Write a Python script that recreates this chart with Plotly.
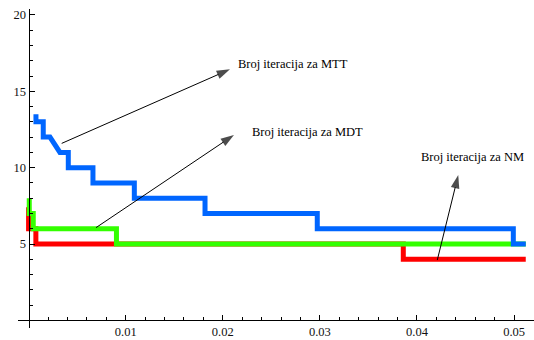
import plotly.graph_objects as go

# ---- data ----
mtt_x = [0.00076, 0.00076, 0.00151, 0.00151, 0.00220, 0.00323, 0.00409, 0.00409,
         0.00663, 0.00663, 0.01089, 0.01089, 0.01817, 0.01817, 0.02973, 0.02973,
         0.04992, 0.04992, 0.05120]
mtt_y = [13.5, 13, 13, 12, 12, 11, 11, 10, 10, 9, 9, 8, 8, 7, 7, 6, 6, 5, 5]

mdt_x = [0.00007, 0.00007, 0.00048, 0.00048, 0.00905, 0.00905, 0.05120]
mdt_y = [8, 7, 7, 6, 6, 5, 5]

nm_x = [0.00000, 0.00000, 0.00075, 0.00075, 0.03859, 0.03859, 0.05120]
nm_y = [7.4, 6, 6, 5, 5, 4, 4]

x_ticks = [0.01, 0.02, 0.03, 0.04, 0.05]
x_tick_labels = ["0.01", "0.02", "0.03", "0.04", "0.05"]
x_minor = [0.002, 0.004, 0.006, 0.008, 0.012, 0.014, 0.016, 0.018, 0.022, 0.024,
           0.026, 0.028, 0.032, 0.034, 0.036, 0.038, 0.042, 0.044, 0.046, 0.048]
y_ticks = [5, 10, 15, 20]
y_tick_labels = ["5", "10", "15", "20"]
y_minor = [1, 2, 3, 4, 6, 7, 8, 9, 11, 12, 13, 14, 16, 17, 18, 19]

labels = ["Broj iteracija za MTT", "Broj iteracija za MDT", "Broj iteracija za NM"]
# arrow tail (x, y), head (x, y), label anchor (x, y) in data units
arrow_tail = [(0.00341, 11.59), (0.00694, 6.07), (0.04209, 3.95)]
arrow_head = [(0.02074, 16.44), (0.02115, 12.14), (0.04425, 9.52)]
label_pos = [(0.02136, 16.79), (0.02280, 12.33), (0.04024, 10.72)]

X_RANGE = [-0.00109, 0.05205]
Y_RANGE = [-0.50, 20.39]

font_family = "Liberation Serif"

fig = go.Figure()
fig.add_trace(go.Scatter(x=nm_x, y=nm_y, mode="lines",
                         line=dict(color="#ff0000", width=5)))
fig.add_trace(go.Scatter(x=mdt_x, y=mdt_y, mode="lines",
                         line=dict(color="#33ff00", width=5)))
fig.add_trace(go.Scatter(x=mtt_x, y=mtt_y, mode="lines",
                         line=dict(color="#0066ff", width=5)))

for (tx, ty), (hx, hy), (lx, ly), txt in zip(arrow_tail, arrow_head, label_pos, labels):
    fig.add_trace(go.Scatter(
        x=[tx, hx], y=[ty, hy], mode="lines+markers",
        line=dict(color="black", width=1),
        marker=dict(symbol="arrow", size=[0, 14], angleref="previous",
                    color="black", line=dict(width=0)),
        hoverinfo="skip"))
    fig.add_annotation(x=lx, y=ly, xref="x", yref="y", text=txt, showarrow=False,
                       xanchor="left", yanchor="middle",
                       font=dict(family=font_family, size=12.5, color="black"))

x_pos = (0 - Y_RANGE[0]) / (Y_RANGE[1] - Y_RANGE[0])
y_pos = (0 - X_RANGE[0]) / (X_RANGE[1] - X_RANGE[0])

fig.update_layout(
    width=534, height=340,
    margin=dict(l=18, r=0, t=9, b=12),
    paper_bgcolor="white", plot_bgcolor="white",
    showlegend=False,
    font=dict(family=font_family),
    xaxis=dict(range=X_RANGE, anchor="free", position=x_pos,
               showline=True, linecolor="black", linewidth=1,
               showgrid=False, zeroline=False, automargin=False,
               tickmode="array", tickvals=x_ticks, ticktext=x_tick_labels,
               ticks="inside", ticklen=5, tickwidth=1, tickcolor="black",
               minor=dict(tickmode="array", tickvals=x_minor, ticks="inside",
                          ticklen=3, tickwidth=1, tickcolor="black", showgrid=False),
               tickfont=dict(family=font_family, size=12.5, color="#111")),
    yaxis=dict(range=Y_RANGE, anchor="free", position=y_pos,
               showline=True, linecolor="black", linewidth=1,
               showgrid=False, zeroline=False, automargin=False,
               tickmode="array", tickvals=y_ticks, ticktext=y_tick_labels,
               ticks="inside", ticklen=5, tickwidth=1, tickcolor="black",
               minor=dict(tickmode="array", tickvals=y_minor, ticks="inside",
                          ticklen=3, tickwidth=1, tickcolor="black", showgrid=False),
               tickfont=dict(family=font_family, size=12.5, color="#111")),
)

fig.write_html("out.html", config={"displayModeBar": False},
               post_script="document.body.style.margin='0';")
